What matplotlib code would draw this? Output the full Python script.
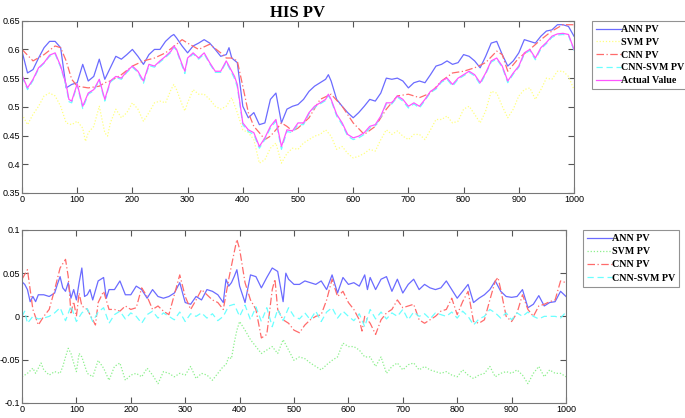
import matplotlib
matplotlib.use("Agg")
import matplotlib.pyplot as plt

# ---------------- top panel data ----------------
title = "HIS PV"
top_labels = ["ANN PV", "SVM PV", "CNN PV", "CNN-SVM PV", "Actual Value"]
bot_labels = ["ANN PV", "SVM PV", "CNN PV", "CNN-SVM PV"]

actual_x = [0,10,20,30,40,50,60,70,80,85,90,100,110,120,130,140,150,160,170,180,190,200,210,220,230,240,250,260,270,275,280,290,295,300,310,320,330,340,350,360,370,380,385,390,400,410,420,430,440,450,460,470,480,490,500,510,520,530,540,550,555,560,570,580,590,600,610,620,630,640,650,660,670,680,690,700,710,720,730,740,750,760,770,780,790,800,810,820,830,840,850,860,870,880,890,900,910,920,930,940,950,960,970,980,990,1000]
actual_y = [0.555,0.533,0.548,0.568,0.577,0.590,0.594,0.571,0.539,0.513,0.510,0.540,0.501,0.524,0.530,0.548,0.513,0.545,0.553,0.550,0.562,0.571,0.562,0.545,0.574,0.571,0.580,0.588,0.597,0.606,0.600,0.574,0.562,0.585,0.594,0.585,0.594,0.577,0.562,0.562,0.580,0.562,0.553,0.539,0.472,0.460,0.455,0.431,0.446,0.466,0.478,0.431,0.460,0.458,0.472,0.472,0.490,0.501,0.507,0.513,0.522,0.513,0.487,0.472,0.452,0.446,0.449,0.455,0.466,0.469,0.484,0.507,0.507,0.519,0.513,0.501,0.507,0.501,0.513,0.527,0.533,0.545,0.550,0.539,0.550,0.556,0.562,0.556,0.542,0.559,0.580,0.585,0.571,0.545,0.559,0.571,0.594,0.600,0.585,0.603,0.612,0.623,0.627,0.628,0.626,0.600]

cnnsvm_y = [0.553,0.530,0.546,0.566,0.576,0.588,0.592,0.569,0.536,0.509,0.507,0.538,0.497,0.522,0.528,0.546,0.510,0.543,0.551,0.548,0.560,0.569,0.560,0.541,0.572,0.569,0.578,0.586,0.595,0.604,0.598,0.571,0.558,0.583,0.592,0.583,0.592,0.575,0.560,0.560,0.578,0.559,0.549,0.535,0.469,0.457,0.452,0.428,0.443,0.463,0.475,0.426,0.457,0.455,0.469,0.469,0.488,0.499,0.505,0.511,0.520,0.511,0.484,0.469,0.449,0.443,0.446,0.452,0.463,0.467,0.482,0.505,0.505,0.517,0.510,0.498,0.505,0.498,0.511,0.525,0.531,0.543,0.548,0.536,0.548,0.554,0.560,0.554,0.539,0.557,0.578,0.583,0.569,0.542,0.557,0.569,0.592,0.598,0.582,0.601,0.610,0.621,0.625,0.626,0.624,0.598]

ann_x = [0,10,20,30,40,50,60,70,80,90,100,110,120,130,140,150,160,170,180,190,200,210,220,230,240,250,260,270,275,280,290,300,310,320,330,340,350,360,370,375,380,390,400,410,420,430,440,450,460,470,480,490,500,510,520,530,540,550,555,560,570,580,590,600,610,620,630,640,650,660,670,680,690,700,710,720,730,740,750,760,770,780,790,800,810,820,830,840,850,860,870,880,890,900,910,920,930,940,950,960,970,980,990,1000]
ann_y = [0.597,0.559,0.565,0.585,0.603,0.614,0.614,0.603,0.533,0.539,0.542,0.574,0.545,0.553,0.583,0.548,0.568,0.588,0.583,0.591,0.600,0.588,0.574,0.591,0.600,0.600,0.614,0.623,0.626,0.620,0.606,0.594,0.606,0.611,0.617,0.611,0.600,0.588,0.591,0.603,0.585,0.577,0.501,0.481,0.490,0.469,0.472,0.513,0.524,0.472,0.496,0.501,0.504,0.513,0.527,0.536,0.542,0.548,0.556,0.545,0.513,0.501,0.490,0.481,0.490,0.501,0.513,0.510,0.524,0.550,0.548,0.550,0.545,0.533,0.542,0.545,0.542,0.556,0.571,0.574,0.580,0.574,0.577,0.591,0.588,0.580,0.568,0.588,0.611,0.614,0.591,0.571,0.580,0.594,0.617,0.614,0.611,0.623,0.632,0.634,0.643,0.643,0.640,0.623]

cnn_x = [0,20,40,60,70,80,90,100,120,140,150,160,180,200,220,240,260,280,290,300,320,340,360,370,380,390,400,410,420,430,440,450,460,470,480,490,500,520,540,560,580,600,620,640,660,680,700,720,740,760,780,800,820,840,860,870,880,900,920,940,960,980,1000]
cnn_y = [0.600,0.580,0.591,0.606,0.603,0.580,0.548,0.536,0.533,0.536,0.542,0.545,0.556,0.571,0.580,0.585,0.594,0.609,0.617,0.611,0.600,0.609,0.594,0.585,0.585,0.580,0.536,0.490,0.466,0.455,0.443,0.449,0.460,0.472,0.466,0.458,0.463,0.481,0.513,0.522,0.501,0.472,0.452,0.466,0.496,0.519,0.522,0.516,0.524,0.545,0.559,0.562,0.568,0.577,0.597,0.591,0.562,0.585,0.600,0.617,0.632,0.643,0.643]

svm_x = [0,10,20,30,40,50,60,70,80,90,100,110,115,120,130,140,150,155,160,170,180,190,200,210,220,230,240,250,260,270,275,280,290,295,300,310,320,330,340,350,360,370,380,390,400,410,420,430,440,450,460,470,480,490,500,510,520,530,540,550,560,570,580,590,600,610,620,630,640,650,660,670,680,690,700,710,720,730,740,750,760,770,780,790,800,810,820,830,840,850,860,870,880,890,900,910,920,930,940,950,960,970,980,990,1000]
svm_y = [0.487,0.469,0.487,0.501,0.519,0.524,0.519,0.501,0.472,0.469,0.475,0.463,0.440,0.455,0.466,0.501,0.455,0.449,0.472,0.496,0.481,0.490,0.507,0.496,0.475,0.490,0.507,0.510,0.507,0.530,0.539,0.530,0.504,0.493,0.507,0.530,0.522,0.522,0.513,0.501,0.496,0.501,0.516,0.490,0.460,0.455,0.443,0.402,0.408,0.428,0.437,0.402,0.419,0.428,0.426,0.437,0.443,0.449,0.452,0.460,0.449,0.426,0.431,0.419,0.411,0.414,0.419,0.426,0.423,0.443,0.460,0.452,0.458,0.449,0.443,0.452,0.452,0.443,0.460,0.478,0.478,0.484,0.472,0.475,0.496,0.501,0.487,0.472,0.493,0.527,0.524,0.501,0.481,0.496,0.519,0.530,0.533,0.513,0.530,0.550,0.548,0.562,0.562,0.553,0.530]

# ---------------- bottom panel data (errors) ----------------
ann_err_x = [0,5,10,15,20,25,30,40,50,60,65,70,75,80,85,90,95,100,105,110,115,120,125,130,140,150,155,160,170,180,190,200,210,220,230,240,250,260,270,280,290,300,310,320,330,340,350,360,370,375,380,385,390,395,400,410,420,430,440,450,460,470,480,485,490,500,510,520,530,540,550,560,570,580,590,600,610,620,630,635,640,650,660,670,680,690,700,710,720,730,740,750,760,770,780,790,800,810,820,830,840,850,860,870,880,890,900,910,920,930,940,950,960,970,980,990,1000]
ann_err_y = [0.040,0.037,0.031,0.017,0.023,0.017,0.025,0.025,0.023,0.027,0.037,0.046,0.033,0.029,0.039,0.021,0.031,0.019,0.039,0.056,0.023,0.025,0.031,0.019,0.041,0.045,0.021,0.031,0.031,0.041,0.025,0.025,0.035,0.031,0.021,0.031,0.023,0.021,0.023,0.027,0.039,0.016,0.014,0.023,0.019,0.031,0.029,0.025,0.016,0.043,0.035,0.039,0.046,0.054,0.035,0.016,0.048,0.046,0.033,0.045,0.056,0.052,0.017,0.050,0.043,0.037,0.037,0.041,0.039,0.037,0.041,0.031,0.048,0.027,0.045,0.037,0.039,0.035,0.048,0.031,0.045,0.031,0.043,0.046,0.029,0.043,0.027,0.037,0.043,0.031,0.037,0.033,0.031,0.033,0.041,0.031,0.021,0.029,0.037,0.016,0.021,0.025,0.031,0.041,0.029,0.023,0.022,0.023,0.031,0.010,0.014,0.024,0.012,0.016,0.017,0.029,0.023]

cnn_err_x = [0,10,20,30,40,50,60,70,80,85,90,95,100,105,110,120,130,135,140,150,160,170,180,190,200,210,220,230,240,250,260,270,280,290,300,310,320,330,340,350,360,370,380,390,395,400,410,420,430,440,450,460,465,470,480,490,500,510,520,530,540,550,560,570,580,590,600,610,620,625,630,640,650,660,670,680,690,700,710,720,730,740,750,760,770,780,790,800,810,820,830,840,850,860,870,875,880,890,900,910,920,930,940,950,960,970,980,990,1000]
cnn_err_y = [0.043,0.054,0.008,-0.010,0.000,0.008,0.031,0.056,0.066,0.046,0.004,0.017,0.000,0.027,0.012,0.008,-0.004,-0.010,0.016,0.029,0.008,0.008,0.006,0.012,0.008,0.010,0.033,0.023,0.008,0.012,0.006,0.002,0.025,0.048,0.023,0.008,0.019,0.031,0.025,0.019,0.016,0.008,0.043,0.074,0.089,0.078,0.039,0.019,0.008,-0.025,-0.021,0.031,0.043,0.008,-0.004,-0.008,-0.016,-0.019,-0.010,-0.004,0.000,0.002,0.019,0.043,0.023,0.029,0.016,0.008,-0.004,-0.017,0.000,-0.008,-0.021,-0.004,0.004,0.008,0.019,0.010,0.012,0.014,-0.004,-0.008,-0.004,0.000,0.006,0.008,0.021,0.002,0.017,0.029,-0.006,-0.008,-0.004,0.019,0.041,0.045,0.031,0.000,-0.006,0.004,0.025,0.008,0.000,0.012,0.014,0.017,0.019,0.041,0.039]

svm_err_x = [0,10,20,25,30,35,40,50,60,70,75,80,85,90,95,100,105,110,120,130,140,150,160,170,180,190,200,210,220,230,240,250,260,270,280,290,300,310,320,330,340,350,360,370,375,380,385,390,395,400,410,420,430,440,450,460,470,480,490,500,510,520,530,540,550,560,570,580,590,600,610,620,630,640,650,660,670,680,690,700,710,720,730,740,750,760,770,780,790,800,810,820,830,840,850,860,870,880,890,900,910,920,930,940,950,960,970,980,990,1000]
svm_err_y = [-0.070,-0.066,-0.060,-0.066,-0.060,-0.054,-0.062,-0.068,-0.064,-0.066,-0.058,-0.047,-0.037,-0.043,-0.054,-0.064,-0.043,-0.047,-0.066,-0.070,-0.051,-0.060,-0.074,-0.058,-0.054,-0.074,-0.068,-0.066,-0.070,-0.060,-0.068,-0.078,-0.064,-0.066,-0.070,-0.066,-0.068,-0.058,-0.072,-0.066,-0.068,-0.074,-0.066,-0.058,-0.056,-0.047,-0.049,-0.031,-0.016,-0.006,-0.016,-0.027,-0.035,-0.043,-0.039,-0.035,-0.043,-0.027,-0.039,-0.051,-0.047,-0.049,-0.054,-0.058,-0.062,-0.056,-0.051,-0.047,-0.031,-0.035,-0.035,-0.039,-0.047,-0.047,-0.058,-0.047,-0.066,-0.058,-0.054,-0.062,-0.056,-0.054,-0.062,-0.058,-0.062,-0.064,-0.066,-0.064,-0.068,-0.070,-0.062,-0.068,-0.072,-0.068,-0.066,-0.058,-0.070,-0.066,-0.064,-0.066,-0.062,-0.068,-0.078,-0.066,-0.058,-0.070,-0.062,-0.066,-0.066,-0.070]

cnnsvm_err_x = [0,5,10,20,30,40,50,60,70,80,90,100,110,120,130,140,150,160,170,180,190,200,210,220,230,240,250,260,270,280,290,300,310,320,330,340,350,360,370,380,390,400,410,420,430,440,450,460,470,480,490,500,510,520,530,540,550,560,570,580,590,600,610,620,630,640,650,660,670,680,690,700,710,720,730,740,750,760,770,780,790,800,810,820,830,840,850,860,870,880,890,900,910,920,930,940,950,960,970,980,990,1000]
cnnsvm_err_y = [0.000,0.006,-0.008,0.000,-0.003,-0.002,0.000,0.004,0.010,-0.005,0.012,-0.006,0.004,0.009,-0.006,0.005,0.010,-0.008,0.002,0.006,-0.003,0.004,0.000,-0.008,0.002,0.006,-0.002,0.004,0.000,-0.004,0.005,-0.006,0.003,0.000,0.004,-0.002,0.003,-0.005,0.000,0.012,0.014,0.000,0.013,-0.004,0.011,-0.006,0.010,-0.012,0.008,-0.005,0.010,0.000,-0.003,0.004,-0.004,0.006,-0.006,0.005,0.010,-0.002,0.006,0.000,-0.005,0.003,-0.012,0.008,-0.003,0.005,-0.003,0.004,0.000,0.008,-0.004,0.005,0.000,0.003,-0.003,0.004,0.002,0.000,0.005,-0.002,0.006,0.000,-0.010,-0.003,0.000,0.008,0.004,-0.002,0.004,-0.004,0.004,0.000,0.005,0.000,-0.003,0.000,0.000,0.000,-0.002,0.005]

top_yticks = [0.35, 0.4, 0.45, 0.5, 0.55, 0.6, 0.65]
top_yticklabels = ["0.35", "0.4", "0.45", "0.5", "0.55", "0.6", "0.65"]
bot_yticks = [-0.1, -0.05, 0, 0.05, 0.1]
bot_yticklabels = ["-0.1", "-0.05", "0", "0.05", "0.1"]
xticks = [0, 100, 200, 300, 400, 500, 600, 700, 800, 900, 1000]

# ---------------- styles ----------------
c_ann = "#6b6bff"
c_svm_top = "#ffff80"
c_svm_bot = "#8cf08c"
c_cnn = "#ff6b6b"
c_cs = "#6bffff"
c_act = "#ff55ff"
lw = 0.9

fig = plt.figure(figsize=(6.85, 4.18), dpi=100)
ax1 = fig.add_axes([22/685, 1-193/418, (574-22)/685, (193-20.7)/418])
ax2 = fig.add_axes([22/685, 1-402.7/418, (566-22)/685, (402.7-230)/418])

ax1.plot(ann_x, ann_y, color=c_ann, lw=lw, ls="-", label=top_labels[0])
ax1.plot(svm_x, svm_y, color=c_svm_top, lw=lw, ls=(0, (1, 1.5)), label=top_labels[1])
ax1.plot(cnn_x, cnn_y, color=c_cnn, lw=lw, ls=(0, (6, 2, 1, 2)), label=top_labels[2])
ax1.plot(actual_x, cnnsvm_y, color=c_cs, lw=lw, ls=(0, (5, 3)), label=top_labels[3])
ax1.plot(actual_x, actual_y, color=c_act, lw=lw, ls="-", label=top_labels[4])

ax2.plot(ann_err_x, ann_err_y, color=c_ann, lw=lw, ls="-", label=bot_labels[0])
ax2.plot(svm_err_x, svm_err_y, color=c_svm_bot, lw=lw, ls=(0, (1, 1.5)), label=bot_labels[1])
ax2.plot(cnn_err_x, cnn_err_y, color=c_cnn, lw=lw, ls=(0, (6, 2, 1, 2)), label=bot_labels[2])
ax2.plot(cnnsvm_err_x, cnnsvm_err_y, color=c_cs, lw=lw, ls=(0, (5, 3)), label=bot_labels[3])

for ax, yt, ytl, ylim in ((ax1, top_yticks, top_yticklabels, (0.35, 0.65)),
                          (ax2, bot_yticks, bot_yticklabels, (-0.1, 0.1))):
    ax.set_xlim(0, 1000)
    ax.set_ylim(*ylim)
    ax.set_xticks(xticks)
    ax.set_xticklabels([str(v) for v in xticks])
    ax.set_yticks(yt)
    ax.set_yticklabels(ytl)
    ax.tick_params(direction="in", top=True, right=True, length=4, width=0.8,
                   color="#555555", labelsize=6.5, pad=1.5)
    for lab in ax.get_xticklabels() + ax.get_yticklabels():
        lab.set_family("Liberation Sans")
    for sp in ax.spines.values():
        sp.set_color("#777777")
        sp.set_linewidth(0.8)

ax1.set_title(title, fontsize=12, fontweight="bold", family="Liberation Serif", pad=3)

legfont = {"family": "Liberation Serif", "weight": "bold", "size": 7.2}
leg1 = ax1.legend(loc="upper left", bbox_to_anchor=(592/685, 1-21/418),
                  bbox_transform=fig.transFigure, prop=legfont, frameon=True,
                  fancybox=False, edgecolor="#777777", handlelength=2.5,
                  handletextpad=0.0, labelspacing=0.38, borderpad=0.4,
                  borderaxespad=0)
leg1.get_frame().set_linewidth(0.8)
leg2 = ax2.legend(loc="upper left", bbox_to_anchor=(583/685, 1-230/418),
                  bbox_transform=fig.transFigure, prop=legfont, frameon=True,
                  fancybox=False, edgecolor="#777777", handlelength=2.5,
                  handletextpad=0.0, labelspacing=0.42, borderpad=0.4,
                  borderaxespad=0)
leg2.get_frame().set_linewidth(0.8)

fig.savefig("out.png", dpi=100)
